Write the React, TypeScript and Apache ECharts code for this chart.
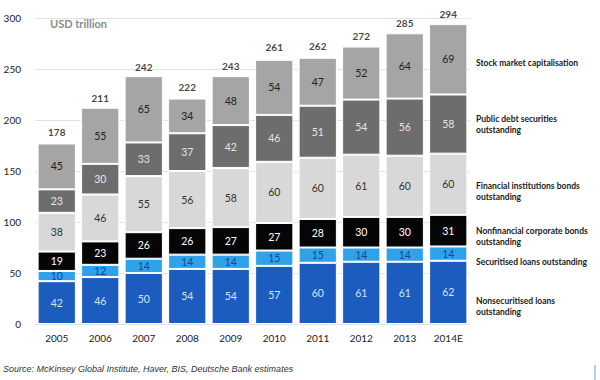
import React, { useEffect, useRef } from "react";
import * as echarts from "echarts";

const years = ["2005", "2006", "2007", "2008", "2009", "2010", "2011", "2012", "2013", "2014E"];
const nonsecuritised = [42, 46, 50, 54, 54, 57, 60, 61, 61, 62];
const securitised = [10, 12, 14, 14, 14, 15, 15, 14, 14, 14];
const nonfinancial = [19, 23, 26, 26, 27, 27, 28, 30, 30, 31];
const financial = [38, 46, 55, 56, 58, 60, 60, 61, 60, 60];
const publicDebt = [23, 30, 33, 37, 42, 46, 51, 54, 56, 58];
const stockMarket = [45, 55, 65, 34, 48, 54, 47, 52, 64, 69];
const totals = [178, 211, 242, 222, 243, 261, 262, 272, 285, 294];
const yTicks = [0, 50, 100, 150, 200, 250, 300];

const seriesNames = [
  "Nonsecuritised loans\noutstanding",
  "Securitised loans outstanding",
  "Nonfinancial corporate bonds\noutstanding",
  "Financial institutions bonds\noutstanding",
  "Public debt securities\noutstanding",
  "Stock market capitalisation",
];

const FONT = "Lato, 'Open Sans', sans-serif";

export default function App() {
  const ref = useRef<HTMLDivElement>(null);
  useEffect(() => {
    if (!ref.current) return;
    const chart = echarts.init(ref.current, undefined, { renderer: "svg" });
    const datasets = [nonsecuritised, securitised, nonfinancial, financial, publicDebt, stockMarket];
    const colors = ["#1d5cbf", "#2fa2ea", "#050505", "#d8d8d8", "#6d6d6d", "#a5a5a5"];
    const labelColors = ["#cfe6fb", "#17478f", "#ffffff", "#333333", "#e4e4e4", "#222222"];
    const barSeries = datasets.map((d, i) => ({
      name: seriesNames[i],
      type: "bar",
      stack: "total",
      barCategoryGap: "12%",
      data: d,
      itemStyle: { color: colors[i], borderColor: "#ffffff", borderWidth: 1 },
      label: {
        show: true,
        position: "inside",
        color: labelColors[i],
        fontSize: 10.5,
        fontFamily: FONT,
      },
    }));
    const legendY = [306, 262, 236, 191, 124, 63];
    chart.setOption({
      animation: false,
      grid: { left: 35, right: 130, top: 18, bottom: 56 },
      xAxis: {
        type: "category",
        data: years,
        axisLine: { show: false },
        axisTick: { show: false },
        axisLabel: { color: "#222", fontSize: 10, fontFamily: FONT, margin: 9 },
      },
      yAxis: {
        type: "value",
        min: 0,
        max: 300,
        interval: 50,
        axisLabel: {
          color: "#222",
          fontSize: 10,
          fontFamily: FONT,
          margin: 14,
          formatter: (v: number) => (yTicks.includes(v) ? String(v) : ""),
        },
        splitLine: { lineStyle: { color: "#e3e3e3", width: 1 } },
        axisLine: { show: false },
        axisTick: { show: false },
      },
      series: [
        ...barSeries,
        {
          name: "Total",
          type: "scatter",
          data: totals,
          symbol: "circle",
          symbolSize: 1,
          itemStyle: { color: "rgba(255,255,255,0)" },
          z: 10,
          label: {
            show: true,
            position: "top",
            distance: 5,
            color: "#111",
            fontWeight: "bold",
            fontSize: 10,
            fontFamily: FONT,
          },
        },
      ],
      graphic: [
        {
          type: "text",
          left: 50,
          top: 18,
          style: { text: "USD trillion", fill: "#8a8a8a", fontSize: 11, fontWeight: "bold", fontFamily: FONT },
        },
        ...seriesNames.map((n, i) => ({
          type: "text",
          x: 476,
          y: legendY[i],
          style: {
            text: n,
            fill: "#1a1a1a",
            fontSize: 8.5,
            fontWeight: "bold",
            fontFamily: FONT,
            verticalAlign: "middle",
            lineHeight: 11,
          },
        })),
        {
          type: "text",
          left: 3,
          top: 364,
          style: {
            text: "Source: McKinsey Global Institute, Haver, BIS, Deutsche Bank estimates",
            fill: "#333",
            fontSize: 9,
            fontStyle: "italic",
            fontFamily: "'Liberation Sans', Arial, sans-serif",
          },
        },
        {
          type: "line",
          shape: { x1: 595, y1: 365, x2: 595, y2: 380 },
          style: { stroke: "#6fa0d0", lineWidth: 1 },
        },
      ],
    });
    return () => chart.dispose();
  }, []);
  return <div ref={ref} style={{ width: 600, height: 380, position: "absolute", left: 0, top: 0, background: "#fff" }} />;
}
